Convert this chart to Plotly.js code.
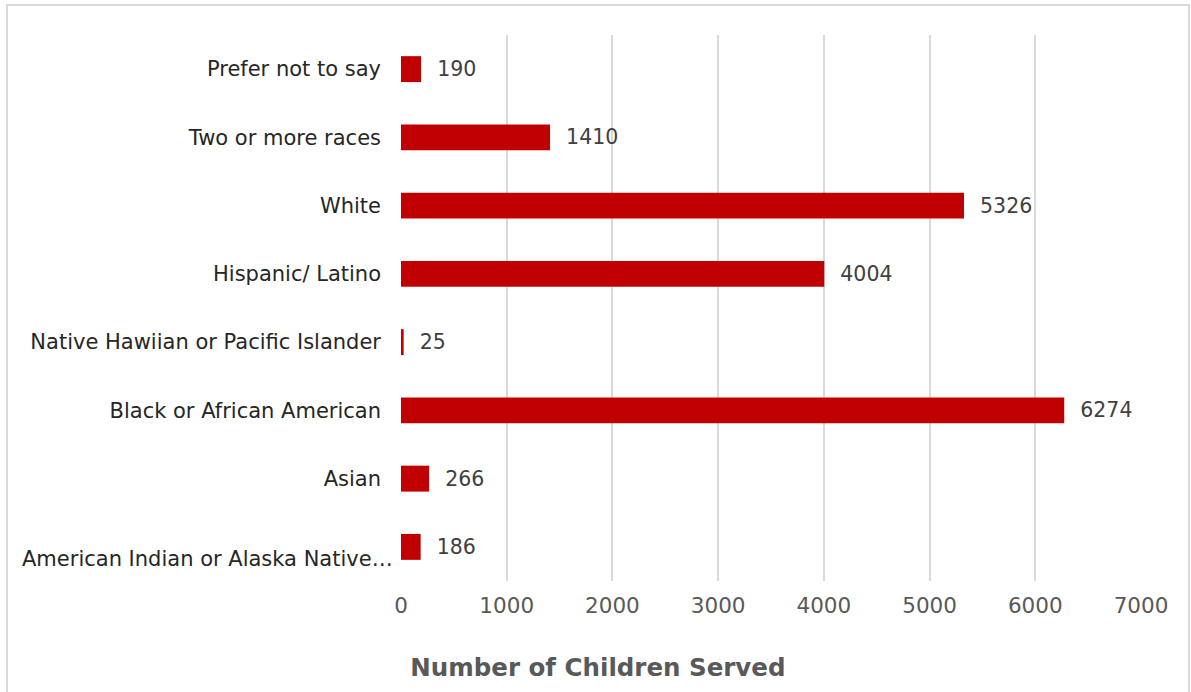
<!DOCTYPE html>
<html>
<head>
<meta charset="utf-8">
<script src="https://cdn.plot.ly/plotly-3.0.1.min.js"></script>
<style>
  html, body { margin: 0; padding: 0; background: #ffffff; overflow: hidden; }
  #frame { position: absolute; left: 6px; top: 4px; width: 1184px; height: 720px;
           border: 2px solid #d9d9d9; box-sizing: border-box; }
  #chart { position: absolute; left: 0; top: 0; width: 1191px; height: 692px; }
</style>
</head>
<body>
<div id="frame"></div>
<div id="chart"></div>
<script>
const categories = [
  "American Indian or Alaska Native…",
  "Asian",
  "Black or African American",
  "Native Hawiian or Pacific Islander",
  "Hispanic/ Latino",
  "White",
  "Two or more races",
  "Prefer not to say"
];
const childrenServed = [186, 266, 6274, 25, 4004, 5326, 1410, 190];
const xTickValues = [0, 1000, 2000, 3000, 4000, 5000, 6000, 7000];
const axisTitle = "Number of Children Served";

const FONT = "DejaVu Sans, sans-serif";

// the truncated first label sits a bit lower in the original, drawn as an annotation
const yTickText = categories.map((c, i) => (i === 0 ? "" : c));

const trace = {
  type: "bar",
  orientation: "h",
  y: categories,
  x: childrenServed,
  marker: { color: "#c00000" },
  width: 0.38,
  text: childrenServed.map(String),
  texttemplate: "\u00a0\u00a0%{text}",
  textposition: "outside",
  cliponaxis: false,
  textfont: { family: FONT, size: 20.5, color: "#404040" },
  hoverinfo: "x+y"
};

const layout = {
  width: 1191,
  height: 692,
  margin: { l: 401, r: 50, t: 35, b: 111 },
  paper_bgcolor: "rgba(0,0,0,0)",
  plot_bgcolor: "rgba(0,0,0,0)",
  showlegend: false,
  font: { family: FONT },
  title: {
    text: "<b>" + axisTitle + "</b>",
    font: { family: FONT, size: 24.5, color: "#595959" },
    xref: "container", yref: "container",
    x: 0.502, y: 0.036, xanchor: "center", yanchor: "middle"
  },
  xaxis: {
    range: [0, 7000],
    tickvals: xTickValues,
    ticktext: xTickValues.map(String),
    showgrid: true,
    gridcolor: "#d9d9d9",
    gridwidth: 2,
    zeroline: false,
    showline: false,
    ticks: "",
    ticklabelstandoff: 9,
    tickfont: { family: FONT, size: 21.5, color: "#595959" },
    fixedrange: true
  },
  yaxis: {
    type: "category",
    categoryorder: "array",
    categoryarray: categories,
    tickvals: categories,
    ticktext: yTickText,
    showgrid: false,
    zeroline: false,
    showline: false,
    ticks: "",
    ticklabelstandoff: 19,
    tickfont: { family: FONT, size: 21, color: "#262626" },
    fixedrange: true
  },
  annotations: [{
    text: categories[0],
    xref: "paper", x: 0, xanchor: "right", xshift: -6,
    yref: "y", y: categories[0], yanchor: "middle", yshift: -12,
    showarrow: false,
    font: { family: FONT, size: 21, color: "#262626" }
  }]
};

Plotly.newPlot("chart", [trace], layout, { displayModeBar: false, staticPlot: true });
</script>
</body>
</html>
